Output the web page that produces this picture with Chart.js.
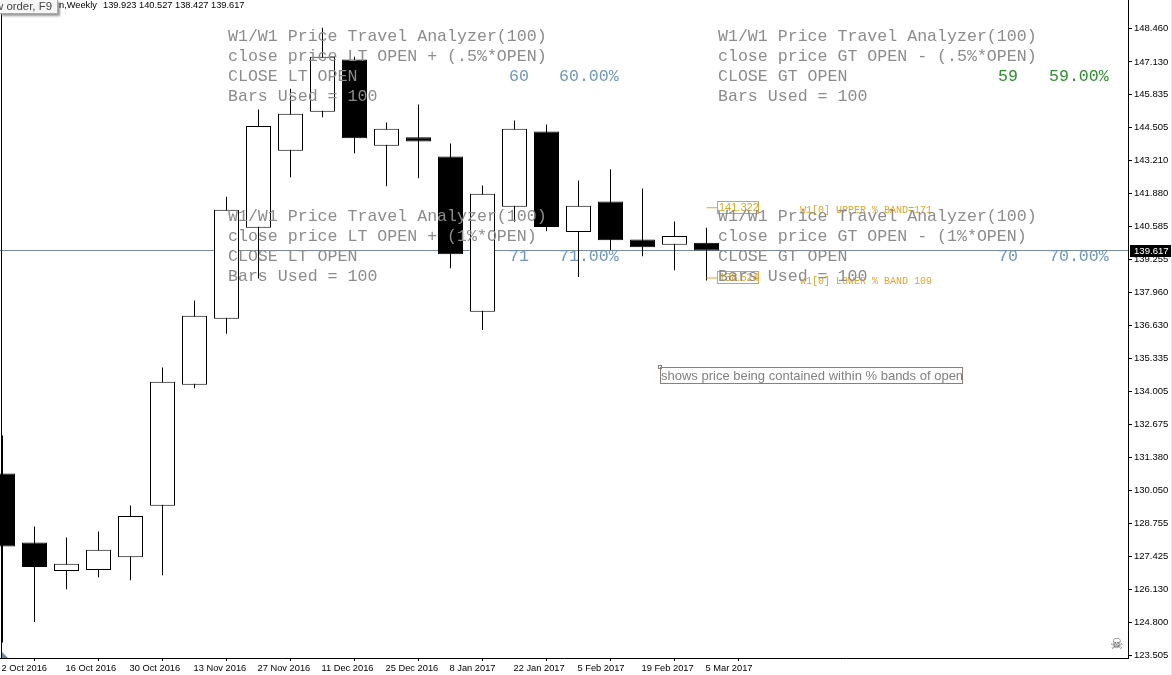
<!DOCTYPE html>
<html>
<head>
<meta charset="utf-8">
<title>W1 price chart</title>
<script src="https://cdn.jsdelivr.net/npm/chart.js@4/dist/chart.umd.min.js"></script>
<style>
  html, body { margin: 0; padding: 0; background: #fff; }
  #wrap { position: relative; width: 1172px; height: 675px; overflow: hidden; background: #fff; }
  canvas { position: absolute; left: 0; top: 0; }
  .mono { position: absolute; font: 16.6px/20px "Liberation Mono", monospace; color: #8c8c8c; white-space: pre; }
  .blue { color: #6f97bd; }
  .green { color: #2f8f2f; }
  .band { position: absolute; font: 10px/12px "Liberation Mono", monospace; color: #e0a526; white-space: pre; }
  .ui { position: absolute; font: 9.25px/12px "Liberation Sans", sans-serif; color: #000; white-space: pre; }
  #tip { position: absolute; left: 0; top: 0; width: 57px; height: 13px; background: #f6f6f6; border: 1px solid #aaa; border-width: 0 1px 1px 0; box-shadow: 2px 2px 2px #999; overflow: hidden; }
  #tip span { position: absolute; right: 5px; top: 0; font: 11.4px/12px "Liberation Sans", sans-serif; color: #444; white-space: pre; }
  #note { position: absolute; left: 660px; top: 367px; width: 301px; height: 15px; border: 1px solid #8a8078; font: 13px/15px "Liberation Sans", sans-serif; color: #808080; white-space: pre; overflow: hidden; }
  #anchor { position: absolute; left: 658px; top: 365px; width: 2px; height: 2px; border: 1px solid #8a8078; }
  #leftline { position: absolute; left: 1px; top: 14px; width: 1px; height: 644px; background: #000; }
  #shift { position: absolute; left: 2px; top: 652px; width: 6px; height: 6px; background: #778899; clip-path: polygon(0 0, 100% 100%, 0 100%); }
  #skull { position: absolute; left: 1110px; top: 636px; font: 15px/16px "DejaVu Sans", sans-serif; color: #555; }
  #edge { position: absolute; left: 1171px; top: 0; width: 1px; height: 675px; background: #e6e6e6; }
</style>
</head>
<body>
<div id="wrap">
  <canvas id="chart" width="1172" height="675"></canvas>
  <div id="leftline"></div>
  <div id="shift"></div>
  <div id="edge"></div>
  <div id="tip"><span>New order, F9</span></div>
  <div class="ui" style="left:59px;top:-1px;">n,Weekly</div>
  <div class="ui" style="left:103px;top:-1px;">139.923 140.527 138.427 139.617</div>

  <div class="mono" style="left:228px;top:27px;">W1/W1 Price Travel Analyzer(100)
close price LT OPEN + (.5%*OPEN)
CLOSE LT OPEN
Bars Used = 100</div>
  <div class="mono blue" style="left:509px;top:67px;">60</div>
  <div class="mono blue" style="left:559px;top:67px;">60.00%</div>

  <div class="mono" style="left:718px;top:27px;">W1/W1 Price Travel Analyzer(100)
close price GT OPEN - (.5%*OPEN)
CLOSE GT OPEN
Bars Used = 100</div>
  <div class="mono green" style="left:998px;top:67px;">59</div>
  <div class="mono green" style="left:1049px;top:67px;">59.00%</div>

  <div class="band" style="left:800px;top:205px;">W1[0] UPPER % BAND=171</div>
  <div class="band" style="left:800px;top:276px;">W1[0] LOWER % BAND 109</div>

  <div class="mono" style="left:228px;top:207px;">W1/W1 Price Travel Analyzer(100)
close price LT OPEN + (1%*OPEN)
CLOSE LT OPEN
Bars Used = 100</div>
  <div class="mono blue" style="left:509px;top:247px;">71</div>
  <div class="mono blue" style="left:559px;top:247px;">71.00%</div>

  <div class="mono" style="left:718px;top:207px;">W1/W1 Price Travel Analyzer(100)
close price GT OPEN - (1%*OPEN)
CLOSE GT OPEN
Bars Used = 100</div>
  <div class="mono blue" style="left:998px;top:247px;">70</div>
  <div class="mono blue" style="left:1049px;top:247px;">70.00%</div>

  <div id="anchor"></div>
  <div id="note">shows price being contained within % bands of open</div>
  <div id="skull">&#9760;</div>
</div>

<script>
// weekly candles
const weeks = ['2 Oct 2016', '9 Oct 2016', '16 Oct 2016', '23 Oct 2016', '30 Oct 2016', '6 Nov 2016',
  '13 Nov 2016', '20 Nov 2016', '27 Nov 2016', '4 Dec 2016', '11 Dec 2016', '18 Dec 2016',
  '25 Dec 2016', '1 Jan 2017', '8 Jan 2017', '15 Jan 2017', '22 Jan 2017', '29 Jan 2017',
  '5 Feb 2017', '12 Feb 2017', '19 Feb 2017', '26 Feb 2017', '5 Mar 2017'];
const opens  = [130.74, 127.99, 126.85, 126.89, 127.40, 129.45, 134.27, 136.90, 140.52, 143.59, 145.14, 147.23,
  143.79, 144.13, 143.36, 137.18, 141.36, 144.36, 140.36, 141.57, 140.06, 139.85, 139.923];
const highs  = [132.25, 128.63, 128.19, 128.43, 129.46, 134.96, 137.63, 141.76, 145.23, 146.06, 148.49, 147.33,
  144.72, 145.43, 143.88, 142.21, 144.80, 144.64, 142.41, 142.85, 142.09, 140.77, 140.527];
const lows   = [124.01, 124.82, 126.13, 126.61, 126.49, 126.69, 134.13, 136.30, 138.50, 142.54, 144.93, 143.49,
  142.18, 142.50, 138.91, 136.45, 140.76, 140.39, 138.56, 139.63, 139.39, 138.83, 138.427];
const closes = [127.83, 127.01, 127.14, 127.70, 129.05, 134.39, 137.02, 141.24, 144.58, 145.06, 147.33, 144.09,
  144.47, 143.96, 139.47, 141.88, 144.47, 140.55, 141.40, 140.03, 139.75, 140.20, 139.617];

const priceTicks = [148.460, 147.130, 145.835, 144.505, 143.210, 141.880, 140.585, 139.255, 137.960, 136.630,
  135.335, 134.005, 132.675, 131.380, 130.050, 128.755, 127.425, 126.130, 124.800, 123.505];
const lastPrice = 139.617;
const upperBand = 141.322;
const lowerBand = 138.524;

const BAND_COLOR = '#e0a526';
const X_MIN = -0.078125;
const X_MAX = 35.171875;
const lastIdx = weeks.length - 1;
const LEADER_END = 22.36;

const candleColor = weeks.map((_, i) => (closes[i] < opens[i] ? '#000' : '#fff'));

// black price tag on the axis and the two orange band labels
const tagsPlugin = {
  id: 'tags',
  afterDraw(chart) {
    const { ctx, scales } = chart;
    ctx.save();
    const py = Math.round(scales.y.getPixelForValue(lastPrice));
    ctx.fillStyle = '#000';
    ctx.fillRect(1130, py - 6, 42, 12);
    ctx.fillStyle = '#fff';
    ctx.font = '9.6px "Liberation Sans", sans-serif';
    ctx.textBaseline = 'middle';
    ctx.fillText(lastPrice.toFixed(3), 1134, py);
    [upperBand, lowerBand].forEach((v) => {
      const by = Math.round(scales.y.getPixelForValue(v));
      ctx.strokeStyle = BAND_COLOR;
      ctx.lineWidth = 1;
      ctx.strokeRect(717.5, by - 6.5, 41, 12);
      ctx.fillStyle = BAND_COLOR;
      ctx.font = '11px "Liberation Sans", sans-serif';
      ctx.fillText(v.toFixed(3), 719, by);
    });
    ctx.restore();
  },
};

// the axis labels must not push the plot area in
function noPadding(scale) {
  scale.paddingLeft = 0;
  scale.paddingRight = 0;
  scale.paddingTop = 0;
  scale.paddingBottom = 0;
}

const chart = new Chart(document.getElementById('chart').getContext('2d'), {
  data: {
    datasets: [
      {
        type: 'bar',
        label: 'body',
        order: 1,
        data: weeks.map((_, i) => ({ x: i, y: [opens[i], closes[i]] })),
        backgroundColor: candleColor,
        borderColor: '#000',
        borderWidth: 1,
        borderSkipped: false,
        inflateAmount: 0,
        barThickness: 25,
        grouped: false,
      },
      {
        type: 'bar',
        label: 'wick',
        order: 2,
        data: weeks.map((_, i) => ({ x: i, y: [lows[i], highs[i]] })),
        backgroundColor: '#000',
        borderWidth: 0,
        inflateAmount: 0,
        barThickness: 1,
        grouped: false,
      },
      {
        type: 'line',
        label: 'last price',
        order: 3,
        data: [{ x: X_MIN, y: lastPrice }, { x: X_MAX, y: lastPrice }],
        borderColor: '#778899',
        borderWidth: 1,
        pointRadius: 0,
      },
      {
        type: 'line',
        label: 'upper band',
        order: 0,
        data: [{ x: lastIdx, y: upperBand }, { x: LEADER_END, y: upperBand }],
        borderColor: BAND_COLOR,
        borderWidth: 1,
        pointRadius: 0,
      },
      {
        type: 'line',
        label: 'lower band',
        order: 0,
        data: [{ x: lastIdx, y: lowerBand }, { x: LEADER_END, y: lowerBand }],
        borderColor: BAND_COLOR,
        borderWidth: 1,
        pointRadius: 0,
      },
    ],
  },
  options: {
    responsive: false,
    animation: false,
    layout: { padding: 0 },
    plugins: { legend: { display: false }, tooltip: { enabled: false } },
    scales: {
      x: {
        type: 'linear',
        offset: false,
        min: X_MIN,
        max: X_MAX,
        afterBuildTicks(scale) {
          scale.ticks = weeks.map((_, i) => ({ value: i })).filter((t) => t.value % 2 === 0);
        },
        afterFit(scale) { scale.height = 17; noPadding(scale); },
        border: { color: '#000', width: 1 },
        grid: { drawOnChartArea: false, tickLength: 3, color: '#000' },
        ticks: {
          autoSkip: false,
          maxRotation: 0,
          align: 'start',
          padding: 2,
          labelOffset: -1,
          color: '#000',
          font: { family: '"Liberation Sans", sans-serif', size: 9.3 },
          callback: (v) => weeks[v],
        },
      },
      y: {
        position: 'right',
        min: 123.39,
        max: 149.595,
        afterBuildTicks(scale) {
          scale.ticks = priceTicks.map((v) => ({ value: v }));
        },
        afterFit(scale) { scale.width = 44; noPadding(scale); },
        border: { color: '#000', width: 1 },
        grid: { drawOnChartArea: false, tickLength: 4, color: '#000' },
        ticks: {
          autoSkip: false,
          padding: 2,
          color: '#000',
          font: { family: '"Liberation Sans", sans-serif', size: 9.5 },
          callback: (v) => v.toFixed(3),
        },
      },
    },
  },
  plugins: [tagsPlugin],
});
</script>
</body>
</html>
